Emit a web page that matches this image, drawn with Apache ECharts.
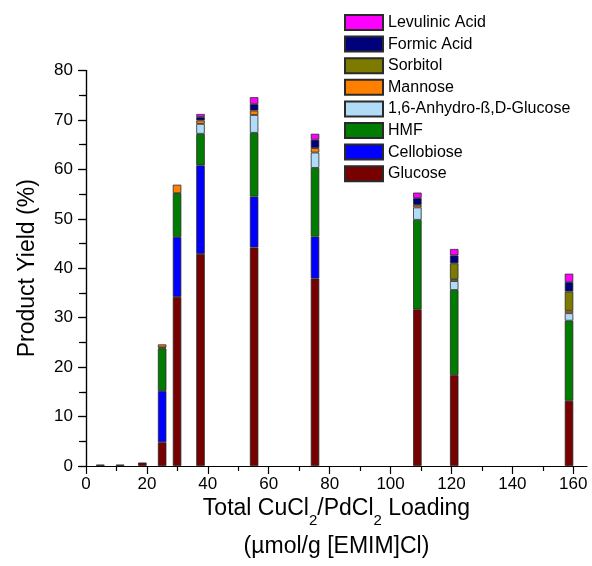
<!DOCTYPE html>
<html>
<head>
<meta charset="utf-8">
<script src="https://cdn.jsdelivr.net/npm/echarts@6/dist/echarts.min.js"></script>
<style>
  html, body { margin: 0; padding: 0; background: #fff; }
  #main { width: 592px; height: 566px; }
</style>
</head>
<body>
<div id="main"></div>
<script>
// loading of CuCl2/PdCl2 (µmol/g) and product yields (%) per stacked segment
const loading = [4.7, 11.2, 18.5, 25.0, 29.9, 37.6, 55.2, 75.2, 108.8, 120.9, 158.6]
const glucose = [0.3, 0.3, 0.7, 4.8, 34.2, 42.9, 44.2, 37.9, 31.7, 18.4, 13.2]
const cellobiose = [null, null, null, 10.4, 12.1, 17.9, 10.3, 8.5, null, null, null]
const hmf = [null, null, null, 8.6, 8.9, 6.4, 12.9, 13.9, 18.1, 17.2, 16.2]
const anhydro = [null, null, null, 0.2, null, 2.0, 3.6, 3.1, 2.5, 1.8, 1.5]
const mannose = [null, null, null, 0.6, 1.7, 0.7, 0.9, 0.9, 0.5, 0.4, 0.5]
const sorbitol = [null, null, null, null, null, null, null, null, null, 3.2, 3.9]
const formic = [null, null, null, null, null, 0.7, 1.3, 1.7, 1.4, 1.6, 1.9]
const levulinic = [null, null, null, null, null, 0.6, 1.4, 1.2, 1.1, 1.3, 1.7]

const xMajorTicks = [0, 20, 40, 60, 80, 100, 120, 140, 160]
const xMinorTicks = [10, 30, 50, 70, 90, 110, 130, 150]

const seriesDefs = [
  { name: 'Glucose', values: glucose, color: '#770000' },
  { name: 'Cellobiose', values: cellobiose, color: '#0000ff' },
  { name: 'HMF', values: hmf, color: '#007d00' },
  { name: '1,6-Anhydro-ß,D-Glucose', values: anhydro, color: '#b0dcf8' },
  { name: 'Mannose', values: mannose, color: '#ff7f00' },
  { name: 'Sorbitol', values: sorbitol, color: '#7d7a00' },
  { name: 'Formic Acid', values: formic, color: '#00007a' },
  { name: 'Levulinic Acid', values: levulinic, color: '#ff00ff' }
]

const font = '"Liberation Sans", Arial, sans-serif'
const chart = echarts.init(document.getElementById('main'))

chart.setOption({
  animation: false,
  textStyle: { fontFamily: font, color: '#000' },
  grid: { left: 86, right: 5, top: 70.5, bottom: 100, outerBoundsMode: 'none' },
  legend: {
    orient: 'vertical',
    left: 344,
    top: 14,
    padding: 0,
    icon: 'rect',
    itemWidth: 38,
    itemHeight: 15,
    itemGap: 4.6,
    selectedMode: false,
    textStyle: { fontSize: 16, fontFamily: font, color: '#000' },
    data: seriesDefs.map(s => s.name).reverse()
  },
  xAxis: [
    {
      type: 'value',
      min: 0,
      max: 164.5,
      interval: 20,
      splitLine: { show: false },
      axisLine: { lineStyle: { color: '#000', width: 1.2 } },
      axisTick: { customValues: xMajorTicks, length: 8, lineStyle: { color: '#000', width: 1.2 } },
      axisLabel: { customValues: xMajorTicks, fontSize: 17, margin: 10, color: '#000', fontFamily: font },
      name: '{t|Total CuCl}{s|2}{t|/PdCl}{s|2}{t| Loading}\n{t|(µmol/g [EMIM]Cl)}',
      nameLocation: 'middle',
      nameGap: 24,
      nameMoveOverlap: false,
      nameTextStyle: {
        fontFamily: font,
        color: '#000',
        rich: {
          t: { fontSize: 23, lineHeight: 38, fontFamily: font, color: '#000' },
          s: { fontSize: 15, lineHeight: 15, verticalAlign: 'bottom', fontFamily: font, color: '#000' }
        }
      }
    },
    {
      type: 'value',
      position: 'bottom',
      min: 0,
      max: 164.5,
      interval: 20,
      splitLine: { show: false },
      axisLine: { show: false },
      axisTick: { customValues: xMinorTicks, length: 5, lineStyle: { color: '#000', width: 1.2 } },
      axisLabel: { show: false }
    }
  ],
  yAxis: [
    {
      type: 'value',
      position: 'left',
      min: 0,
      max: 80,
      interval: 10,
      splitLine: { show: false },
      axisLine: { show: true, lineStyle: { color: '#000', width: 1.2 } },
      axisTick: { show: true, length: 8, lineStyle: { color: '#000', width: 1.2 } },
      minorTick: { show: true, splitNumber: 2, length: 4, lineStyle: { color: '#000', width: 1.2 } },
      axisLabel: { fontSize: 17, margin: 13, color: '#000', fontFamily: font },
      name: 'Product Yield (%)',
      nameLocation: 'middle',
      nameGap: 47,
      nameMoveOverlap: false,
      nameTextStyle: { fontSize: 23, fontFamily: font, color: '#000' }
    },
    {
      type: 'value',
      position: 'right',
      min: 0,
      max: 80,
      interval: 10,
      splitLine: { show: false },
      axisLine: { show: true, lineStyle: { color: '#000', width: 1.2 } },
      axisTick: { show: true, inside: true, length: 7, lineStyle: { color: '#000', width: 1.2 } },
      minorTick: { show: true, splitNumber: 2, length: 7, lineStyle: { color: '#000', width: 1.2 } },
      axisLabel: { show: false }
    }
  ],
  // yield first in each item so the stack is built on the yield dimension
  series: seriesDefs.map(s => ({
    name: s.name,
    type: 'bar',
    stack: 'yield',
    xAxisIndex: 0,
    yAxisIndex: 0,
    barWidth: 8.5,
    encode: { x: 1, y: 0 },
    itemStyle: { color: s.color, borderColor: '#2a2a2a', borderWidth: 0.8 },
    data: loading.map((x, i) => [s.values[i] == null ? '-' : s.values[i], x])
  }))
})
</script>
</body>
</html>
